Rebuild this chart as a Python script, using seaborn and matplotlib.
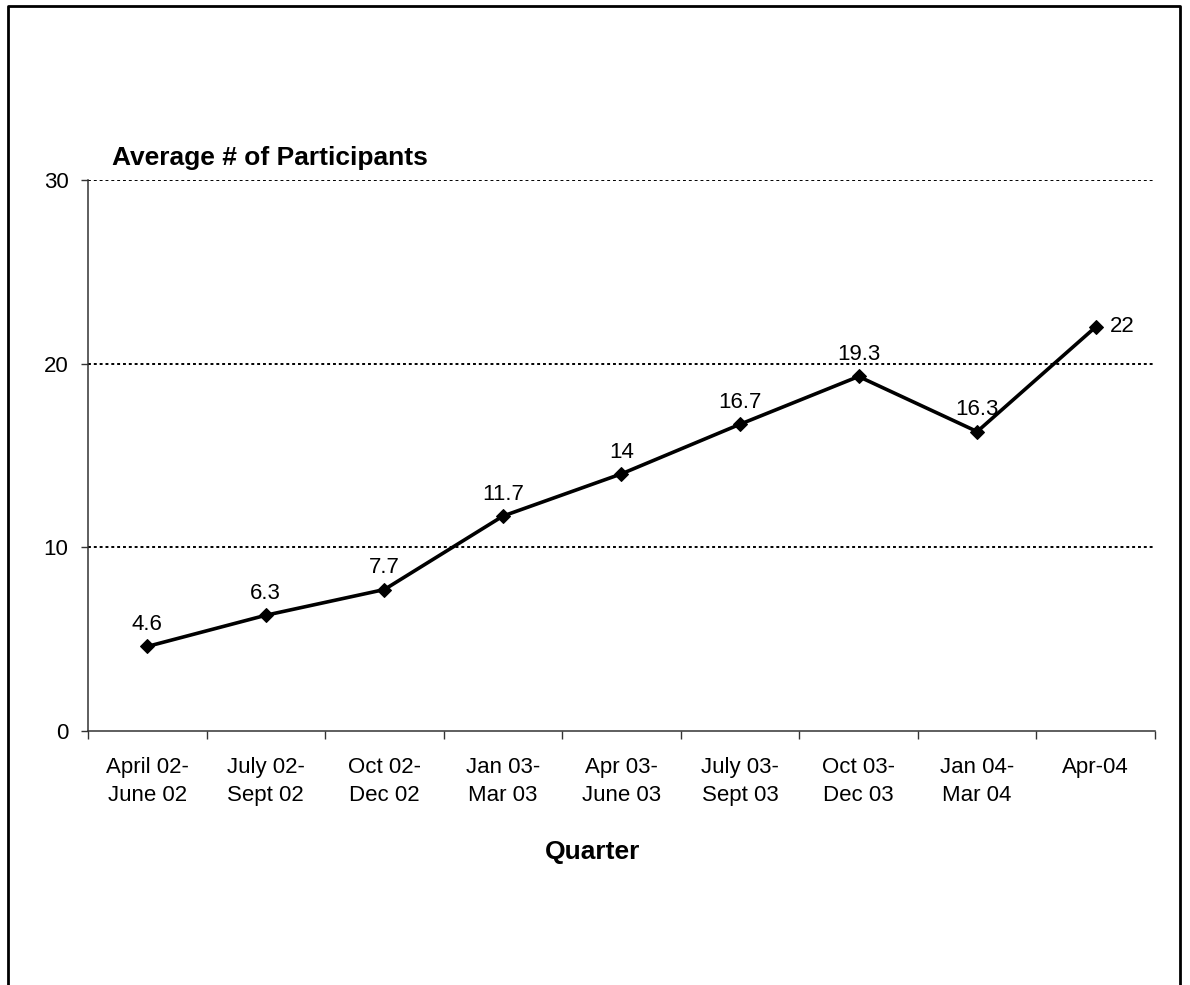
import pandas as pd
import matplotlib
matplotlib.use("Agg")
import matplotlib.pyplot as plt
import seaborn as sns
from matplotlib.lines import Line2D

# Quarter labels and average participants
quarters = ['April 02-\nJune 02', 'July 02-\nSept 02', 'Oct 02-\nDec 02',
            'Jan 03-\nMar 03', 'Apr 03-\nJune 03', 'July 03-\nSept 03',
            'Oct 03-\nDec 03', 'Jan 04-\nMar 04', 'Apr-04']
participants = [4.6, 6.3, 7.7, 11.7, 14, 16.7, 19.3, 16.3, 22]
value_labels = ['4.6', '6.3', '7.7', '11.7', '14', '16.7', '19.3', '16.3', '22']
y_ticks = [0, 10, 20, 30]

df = pd.DataFrame({'pos': range(len(quarters)), 'value': participants})

sns.set_style('white')
plt.rcParams['font.family'] = ['Liberation Sans', 'DejaVu Sans']
plt.rcParams['text.color'] = 'black'
plt.rcParams['xtick.color'] = 'black'
plt.rcParams['ytick.color'] = 'black'

fig = plt.figure(figsize=(11.9, 9.85), dpi=100)
ax = fig.add_axes([0.0739, 0.2579, 0.8967, 0.5594])

# Dotted gridlines
for yv in y_ticks[1:]:
    ax.axhline(yv, color='black', linestyle=(0, (1.5, 1.5)), linewidth=1.4, zorder=1)

sns.lineplot(data=df, x='pos', y='value', ax=ax, color='black', linewidth=2.6,
             marker='D', markersize=7.5, markeredgecolor='black', zorder=3)

# Data labels
for i, (v, lab) in enumerate(zip(participants, value_labels)):
    if i == len(participants) - 1:
        ax.annotate(lab, (i, v), xytext=(10, 0), textcoords='offset points',
                    ha='left', va='center', fontsize=16)
    else:
        ax.annotate(lab, (i, v), xytext=(0, 8), textcoords='offset points',
                    ha='center', va='bottom', fontsize=16)

ax.set_xlim(-0.5, len(quarters) - 0.5)
ax.set_ylim(0, 30)
ax.set_yticks(y_ticks)
ax.set_yticklabels([str(t) for t in y_ticks], fontsize=16)
ax.set_xticks([i for i in range(len(quarters))])
ax.set_xticklabels(quarters, fontsize=16, linespacing=1.4)
ax.tick_params(axis='x', length=0, pad=19)
ax.set_xticks([i - 0.5 for i in range(len(quarters) + 1)], minor=True)
ax.tick_params(axis='x', which='minor', length=6, width=1, color='#333333', direction='out', bottom=True)
ax.tick_params(axis='y', length=5, width=1, color='#333333', direction='out', left=True, pad=9)

for side in ['top', 'right']:
    ax.spines[side].set_visible(False)
for side in ['left', 'bottom']:
    ax.spines[side].set_color('#333333')
    ax.spines[side].set_linewidth(1.1)

ax.set_xlabel('')
ax.set_ylabel('')
fig.text(112 / 1190, 1 - 165 / 985, 'Average # of Participants', fontsize=19,
         fontweight='bold', ha='left', va='baseline')
fig.text(593 / 1190, 1 - 852 / 985, 'Quarter', fontsize=19,
         fontweight='bold', ha='center', va='center')

# Outer frame (bottom edge falls outside the image)
l, r, t = 7.5 / 1190, 1180 / 1190, 1 - 6 / 985
fig.add_artist(Line2D([l, l, r, r], [-0.01, t, t, -0.01], color='black',
                      linewidth=2.0, transform=fig.transFigure))

fig.savefig('out.png', dpi=100)
